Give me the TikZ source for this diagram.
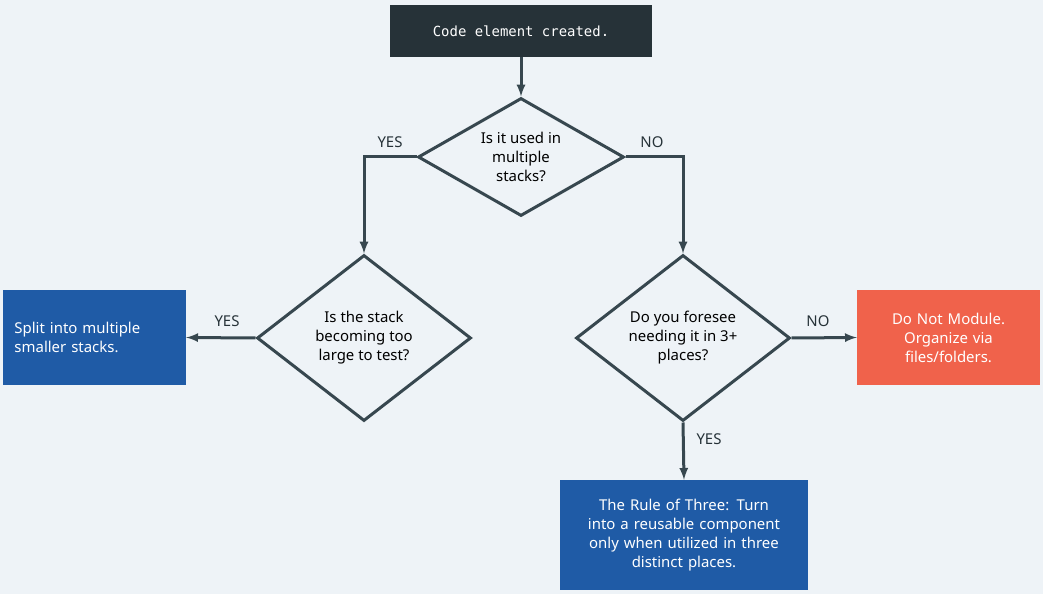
\documentclass[tikz,border=0pt]{standalone}
\usepackage{fontspec}
\setmainfont{Noto Sans}
\setmonofont{DejaVu Sans Mono}
\usetikzlibrary{shapes.geometric,positioning}
\definecolor{bgcol}{HTML}{EEF3F7}
\definecolor{linecol}{HTML}{37474F}
\definecolor{darkcol}{HTML}{263238}
\definecolor{bluecol}{HTML}{1F5BA6}
\definecolor{redcol}{HTML}{F0624B}
\tikzset{
  decision/.style={diamond,draw=linecol,line width=3bp,aspect=1.75,inner sep=0pt,
    minimum width=206bp,minimum height=118bp,align=center,font=\fontsize{15}{19}\selectfont},
  outcome/.style={draw=none,text=white,align=left,font=\fontsize{15}{19}\selectfont},
  flow/.style={->,>=latex,line width=3bp,draw=linecol},
  answer/.style={font=\fontsize{15}{17}\selectfont,text=darkcol}
}
\begin{document}
\begin{tikzpicture}[x=1bp,y=-1bp]
  \fill[bgcol] (0,0) rectangle (1043,594);
  \useasboundingbox (0,0) rectangle (1043,594);
%%
  % Node: start
  \node[fill=darkcol,text=white,minimum width=262bp,minimum height=52bp,
    font=\ttfamily\fontsize{14}{16}\selectfont] (start) at (521,31) {Code element created.};
  % Node: multi
  \node[decision] (multi) at (521,157) {Is it used in\\multiple\\stacks?};
  % Node: large
  \node[decision,minimum width=214bp,minimum height=166bp,aspect=1.29] (large) at (364,338) {Is the stack\\becoming too\\large to test?};
  % Node: foresee
  \node[decision,minimum width=214bp,minimum height=166bp,aspect=1.29] (foresee) at (683,338) {Do you foresee\\needing it in 3+\\places?};
  % Node: split
  \node[outcome,fill=bluecol,minimum width=183bp,minimum height=95bp,text width=160bp] (split) at (94.5,337.5) {Split into multiple\\smaller stacks.};
  % Node: nomod
  \node[outcome,fill=redcol,minimum width=183bp,minimum height=95bp,text width=160bp,align=center] (nomod) at (948.5,337.5) {Do Not Module.\\Organize via\\files/folders.};
  % Node: rule
  \node[outcome,fill=bluecol,minimum width=248bp,minimum height=110bp,text width=240bp,align=center] (rule) at (684,535) {The Rule of Three: Turn\\into a reusable component\\only when utilized in three\\distinct places.};
  % Edges
  \draw[flow] (start) -- (multi);
  \draw[flow] (multi.west) -| (large.north);
  \draw[flow] (multi.east) -| (foresee.north);
  \draw[flow] (large.west) -- (split.east);
  \draw[flow] (foresee.east) -- (nomod.west);
  \draw[flow] (foresee.south) -- (rule.north);
  % Labels
  \node[answer] at (390,142) {YES};
  \node[answer] at (652,142) {NO};
  \node[answer] at (227,321) {YES};
  \node[answer] at (818,321) {NO};
  \node[answer] at (709,439) {YES};
\end{tikzpicture}
\end{document}
